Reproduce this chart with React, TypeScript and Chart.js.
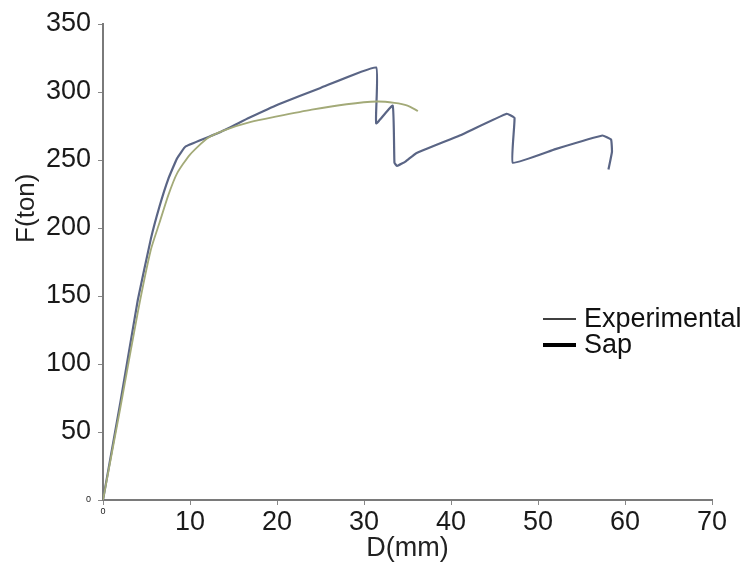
import React, { useEffect, useRef } from "react";
import { Chart, registerables } from "chart.js";

Chart.register(...registerables);

const FONT = "'Liberation Sans', Arial, sans-serif";

const expD = [0, 2, 4, 5.5, 6.5, 7.5, 8.5, 9.5, 13.3, 16.8, 20.2, 25, 31.4, 31.4, 33.3, 33.5, 33.8, 34.8, 36, 41, 46.4, 47.3, 47.1, 52, 57.4, 58.4, 58.5, 58.1];
const expF = [0, 72, 147, 192, 216, 236, 251, 260, 270, 281, 291, 303, 318, 277, 290, 248, 245.6, 249, 255, 268, 284, 281, 248, 258, 268, 265, 256, 243];

const sapD = [0, 2, 4, 5.5, 6.5, 7.5, 8.5, 10, 12, 14, 17, 20, 24, 28, 31.5, 33.5, 35, 36.2];
const sapF = [0, 68, 138, 184, 204, 224, 240, 254, 266, 272, 278, 282, 287, 291, 293, 292, 290, 286];

const xTicksMax = 70;
const yTicksMax = 350;
const legendLabels = ["Experimental", "Sap"];
const yTitle = "F(ton)";
const xTitle = "D(mm)";

export default function App() {
  const ref = useRef<HTMLCanvasElement>(null);
  useEffect(() => {
    document.body.style.margin = "0";
    const overlayPlugin = {
      id: "overlay",
      afterDraw(chart: any) {
        const ctx = chart.ctx;
        const area = chart.chartArea;
        ctx.save();
        // legend
        ctx.font = `27px ${FONT}`;
        ctx.fillStyle = "#111";
        ctx.textBaseline = "middle";
        ctx.strokeStyle = "#000";
        const rows = [
          { y: 319, w: 1.5 },
          { y: 345, w: 4 },
        ];
        rows.forEach((r, i) => {
          ctx.lineWidth = r.w;
          ctx.beginPath();
          ctx.moveTo(543, r.y);
          ctx.lineTo(576, r.y);
          ctx.stroke();
          ctx.fillText(legendLabels[i], 584, r.y + 1);
        });
        // y title
        ctx.translate(27, area.top + (area.bottom - area.top) * 0.387);
        ctx.rotate(-Math.PI / 2);
        ctx.textAlign = "center";
        ctx.font = `26px ${FONT}`;
        ctx.fillStyle = "#222";
        ctx.fillText(yTitle, 0, 0);
        ctx.restore();
      },
    };
    const tickFont = (c: any) => ({
      family: FONT,
      size: c.tick && c.tick.value === 0 ? 9 : 27,
    });
    const chart = new Chart(ref.current!, {
      type: "line",
      data: {
        datasets: [
          {
            label: "Sap",
            data: sapD.map((d, i) => ({ x: d, y: sapF[i] })),
            borderColor: "#a3aa78",
            borderWidth: 1.8,
            pointRadius: 0,
            tension: 0.2,
          },
          {
            label: "Experimental",
            data: expD.map((d, i) => ({ x: d, y: expF[i] })),
            borderColor: "#5a6585",
            borderWidth: 2.2,
            pointRadius: 0,
            tension: 0.1,
          },
        ],
      },
      options: {
        animation: false,
        responsive: false,
        layout: { padding: { top: 24, right: 37, left: 0, bottom: 0 } },
        plugins: { legend: { display: false }, tooltip: { enabled: false } },
        scales: {
          x: {
            type: "linear",
            min: 0,
            max: xTicksMax,
            afterFit: (s: any) => {
              s.height = 65;
            },
            ticks: { stepSize: 10, color: "#1a1a1a", font: tickFont, padding: 1 },
            grid: { display: true, drawOnChartArea: false, tickLength: 5, color: "#888" },
            border: { display: true, color: "#7a7a7a", width: 2 },
            title: { display: true, text: xTitle, color: "#222", font: { family: FONT, size: 27 }, padding: { top: 0, bottom: 0 } },
          },
          y: {
            type: "linear",
            min: 0,
            max: yTicksMax,
            afterFit: (s: any) => {
              s.width = 103;
            },
            ticks: { stepSize: 50, color: "#1a1a1a", font: tickFont, padding: 7 },
            grid: { display: true, drawOnChartArea: false, tickLength: 5, color: "#888" },
            border: { display: true, color: "#7a7a7a", width: 2 },
            title: { display: false },
          },
        },
      },
      plugins: [overlayPlugin],
    });
    return () => chart.destroy();
  }, []);
  return (
    <div style={{ position: "absolute", left: 0, top: 0, width: 749, height: 565, background: "#fff" }}>
      <canvas ref={ref} width={749} height={565} />
    </div>
  );
}
